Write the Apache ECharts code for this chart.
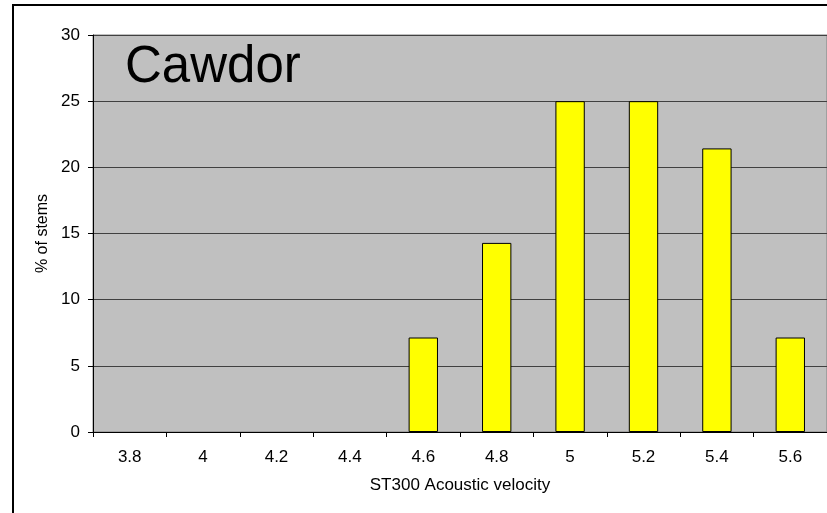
<!DOCTYPE html>
<html>
<head>
<meta charset="utf-8">
<script src="https://cdn.jsdelivr.net/npm/echarts@6/dist/echarts.min.js"></script>
<style>
  html, body { margin: 0; padding: 0; background: #ffffff; }
  #chart { width: 827px; height: 513px; }
</style>
</head>
<body>
<div id="chart"></div>
<script>
// Velocity classes (km/s) and share of stems in each class
const categories = ['3.8', '4', '4.2', '4.4', '4.6', '4.8', '5', '5.2', '5.4', '5.6'];
const percentStems = [0, 0, 0, 0, 7.14, 14.29, 25, 25, 21.43, 7.14];
const yTicks = { min: 0, max: 30, step: 5 };
const siteName = 'Cawdor';
const xTitle = 'ST300 Acoustic velocity';
const yTitle = '% of stems';

const FONT = "'Liberation Sans', Arial, sans-serif";

// empty classes get no outline so nothing is drawn for them
const barData = percentStems.map(v => (v === 0
  ? { value: v, itemStyle: { borderWidth: 0, opacity: 0 } }
  : { value: v }));

const chart = echarts.init(document.getElementById('chart'), null, { renderer: 'canvas' });

chart.setOption({
  backgroundColor: '#ffffff',
  animation: false,
  grid: {
    left: 93,
    top: 35,
    right: 0,
    bottom: 81,
    show: true,
    backgroundColor: '#C0C0C0',
    borderColor: '#808080',
    borderWidth: 1
  },
  graphic: [
    {
      type: 'rect',
      z: -10,
      shape: { x: 13, y: 5, width: 900, height: 600 },
      style: { fill: 'none', stroke: '#000000', lineWidth: 2 }
    },
    {
      type: 'text',
      z: 100,
      x: 125,
      y: 68,
      style: {
        text: siteName,
        font: '51px ' + FONT,
        fill: '#000000',
        verticalAlign: 'middle'
      }
    }
  ],
  xAxis: {
    type: 'category',
    data: categories,
    name: xTitle,
    nameLocation: 'middle',
    nameGap: 45,
    nameTextStyle: { fontFamily: FONT, fontSize: 17, color: '#000000' },
    axisLine: { show: true, lineStyle: { color: '#000000', width: 1 } },
    axisTick: { show: true, alignWithLabel: false, length: 5, lineStyle: { color: '#000000' } },
    axisLabel: { fontFamily: FONT, fontSize: 17, color: '#000000', margin: 17, interval: 0 },
    splitLine: { show: false }
  },
  yAxis: {
    type: 'value',
    min: yTicks.min,
    max: yTicks.max,
    interval: yTicks.step,
    name: yTitle,
    nameLocation: 'middle',
    nameRotate: 90,
    nameGap: 42,
    nameTextStyle: { fontFamily: FONT, fontSize: 16, color: '#000000' },
    axisLine: { show: true, lineStyle: { color: '#000000', width: 1 } },
    axisTick: { show: true, length: 5, lineStyle: { color: '#000000' } },
    axisLabel: { fontFamily: FONT, fontSize: 17, color: '#000000', margin: 13 },
    splitLine: { show: true, lineStyle: { color: '#404040', width: 1 } }
  },
  series: [
    {
      type: 'bar',
      data: barData,
      barWidth: '40%',
      itemStyle: { color: '#FFFF00', borderColor: '#000000', borderWidth: 1 }
    }
  ]
});
</script>
</body>
</html>
